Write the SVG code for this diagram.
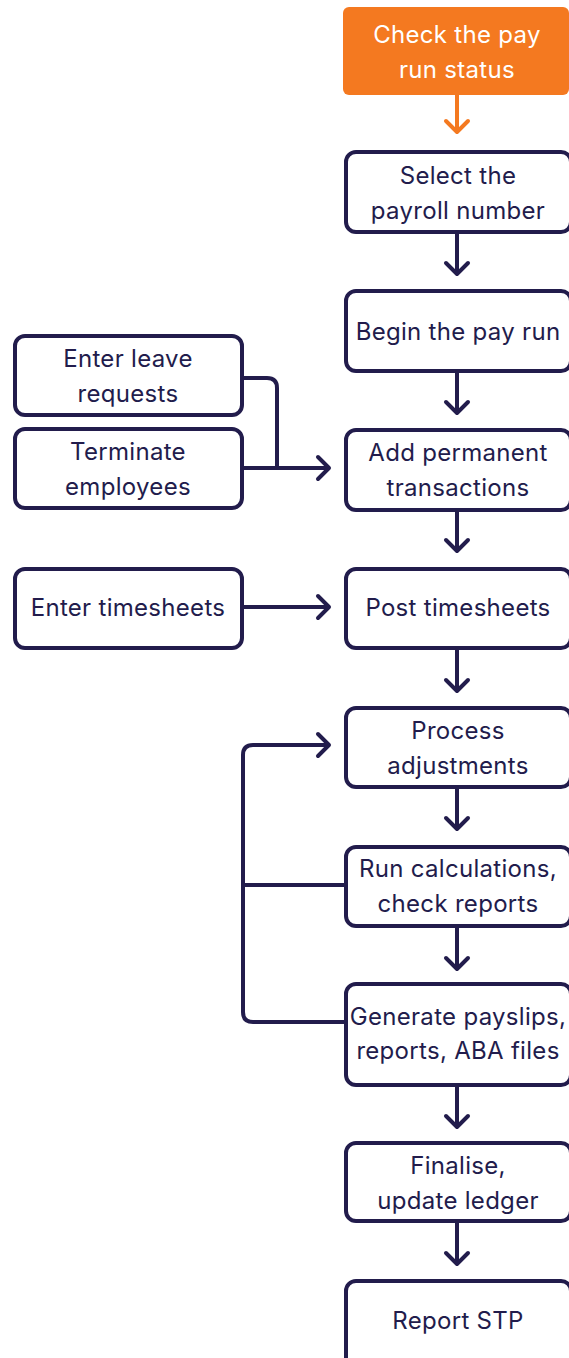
<svg xmlns="http://www.w3.org/2000/svg" width="569" height="1358" viewBox="0 0 569 1358">
<style>
.box{fill:#fff;stroke:#221c4c;stroke-width:4}
.start{fill:#f47920}
.t{font-family:Inter,"Open Sans",sans-serif;font-size:24px;fill:#221c4c;text-anchor:middle;letter-spacing:0.3px}
.tw{fill:#fff}
.c{fill:none;stroke:#221c4c;stroke-width:4;stroke-linejoin:round}
.co{fill:none;stroke:#f47920;stroke-width:4}
</style>
<defs>
<marker id="ah" markerUnits="userSpaceOnUse" markerWidth="30" markerHeight="30" viewBox="-15 -15 30 30" refX="0" refY="0" orient="auto">
<path d="M-11,-11 L0,0 L-11,11" fill="none" stroke="#221c4c" stroke-width="4" stroke-linejoin="round" stroke-linecap="round"/>
</marker>
<marker id="aho" markerUnits="userSpaceOnUse" markerWidth="30" markerHeight="30" viewBox="-15 -15 30 30" refX="0" refY="0" orient="auto">
<path d="M-11,-11 L0,0 L-11,11" fill="none" stroke="#f47920" stroke-width="4" stroke-linejoin="round" stroke-linecap="round"/>
</marker>
</defs>
<g id="connectors">
<path class="co" d="M457,95 V132" marker-end="url(#aho)"/>
<path class="c" d="M457,232 V274" marker-end="url(#ah)"/>
<path class="c" d="M457,371 V413" marker-end="url(#ah)"/>
<path class="c" d="M457,510 V551" marker-end="url(#ah)"/>
<path class="c" d="M457,648 V691" marker-end="url(#ah)"/>
<path class="c" d="M457,787 V829" marker-end="url(#ah)"/>
<path class="c" d="M457,926 V969" marker-end="url(#ah)"/>
<path class="c" d="M457,1085 V1127" marker-end="url(#ah)"/>
<path class="c" d="M457,1221 V1264" marker-end="url(#ah)"/>
<path class="c" d="M242,378 H267 Q277,378 277,388 V468"/>
<path class="c" d="M242,468 H329" marker-end="url(#ah)"/>
<path class="c" d="M242,607 H329" marker-end="url(#ah)"/>
<path class="c" d="M346,885 H243"/>
<path class="c" d="M346,1022 H253 Q243,1022 243,1012 V755 Q243,745 253,745 H329" marker-end="url(#ah)"/>
</g>
<g id="n-check">
<rect class="start" x="343" y="7" width="226" height="88" rx="6"/>
<text class="t tw" x="457" y="43">Check the pay</text>
<text class="t tw" x="457" y="78">run status</text>
</g>
<g id="n-select">
<rect class="box" x="346" y="152" width="225" height="80" rx="10"/>
<text class="t" x="458" y="184">Select the</text>
<text class="t" x="458" y="219">payroll number</text>
</g>
<g id="n-begin">
<rect class="box" x="346" y="291" width="225" height="80" rx="10"/>
<text class="t" x="458" y="340">Begin the pay run</text>
</g>
<g id="n-add">
<rect class="box" x="346" y="430" width="225" height="80" rx="10"/>
<text class="t" x="458" y="461">Add permanent</text>
<text class="t" x="458" y="496">transactions</text>
</g>
<g id="n-post">
<rect class="box" x="346" y="569" width="225" height="79" rx="10"/>
<text class="t" x="458" y="616">Post timesheets</text>
</g>
<g id="n-process">
<rect class="box" x="346" y="708" width="225" height="79" rx="10"/>
<text class="t" x="458" y="739">Process</text>
<text class="t" x="458" y="774">adjustments</text>
</g>
<g id="n-run">
<rect class="box" x="346" y="847" width="225" height="79" rx="10"/>
<text class="t" x="458" y="877">Run calculations,</text>
<text class="t" x="458" y="912">check reports</text>
</g>
<g id="n-generate">
<rect class="box" x="346" y="984" width="225" height="101" rx="10"/>
<text class="t" x="458" y="1025">Generate payslips,</text>
<text class="t" x="458" y="1059">reports, ABA files</text>
</g>
<g id="n-finalise">
<rect class="box" x="346" y="1143" width="225" height="78" rx="10"/>
<text class="t" x="458" y="1174">Finalise,</text>
<text class="t" x="458" y="1209">update ledger</text>
</g>
<g id="n-stp">
<rect class="box" x="346" y="1281" width="225" height="90" rx="10"/>
<text class="t" x="458" y="1329">Report STP</text>
</g>
<g id="n-leave">
<rect class="box" x="15" y="336" width="227" height="79" rx="10"/>
<text class="t" x="128" y="367">Enter leave</text>
<text class="t" x="128" y="402">requests</text>
</g>
<g id="n-terminate">
<rect class="box" x="15" y="429" width="227" height="79" rx="10"/>
<text class="t" x="128" y="460">Terminate</text>
<text class="t" x="128" y="495">employees</text>
</g>
<g id="n-timesheets">
<rect class="box" x="15" y="569" width="227" height="79" rx="10"/>
<text class="t" x="128" y="616">Enter timesheets</text>
</g>
</svg>
